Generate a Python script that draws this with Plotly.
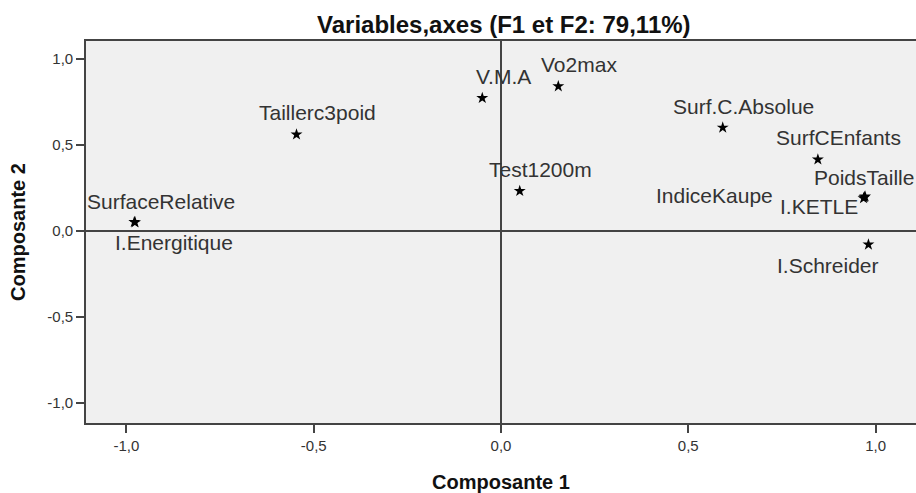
import plotly.graph_objects as go

# ---- data (component loadings) ----
variables = ["SurfaceRelative", "I.Energitique", "Taillerc3poid", "V.M.A", "Vo2max",
             "Surf.C.Absolue", "SurfCEnfants", "Test1200m", "PoidsTaille",
             "IndiceKaupe", "I.KETLE", "I.Schreider"]
comp1 = [-0.979, -0.977, -0.546, -0.050, 0.153, 0.592, 0.846, 0.050, 0.970, 0.968, 0.972, 0.981]
comp2 = [0.052, 0.050, 0.560, 0.772, 0.840, 0.600, 0.415, 0.232, 0.196, 0.190, 0.200, -0.079]

tick_vals = [-1.0, -0.5, 0.0, 0.5, 1.0]
tick_text = ["-1,0", "-0,5", "0,0", "0,5", "1,0"]

title_text = "Variables,axes (F1 et F2: 79,11%)"
x_title = "Composante 1"
y_title = "Composante 2"

# label placement offsets in pixels (dx right, dy up) and anchor
label_style = {
    "SurfaceRelative": (27, 21, "center"),
    "I.Energitique": (39, -20, "center"),
    "Taillerc3poid": (21, 22, "center"),
    "V.M.A": (21, 22, "center"),
    "Vo2max": (21, 22, "center"),
    "Surf.C.Absolue": (21, 21, "center"),
    "SurfCEnfants": (21, 22, "center"),
    "Test1200m": (21, 22, "center"),
    "PoidsTaille": (52, 20, "right"),
    "IndiceKaupe": (-89, 3, "right"),
    "I.KETLE": (-46, -10, "center"),
    "I.Schreider": (-40, -21, "center"),
}

FONT = "Liberation Sans, Arial, sans-serif"
AXC = "#444444"

fig = go.Figure()
fig.add_trace(go.Scatter(
    x=comp1, y=comp2, mode="markers",
    marker=dict(symbol="star", size=9, color="black", line=dict(width=0)),
    hoverinfo="text", text=variables, showlegend=False,
))

annotations = []
for name, xv, yv in zip(variables, comp1, comp2):
    dx, dy, anchor = label_style[name]
    annotations.append(dict(
        x=xv, y=yv, xref="x", yref="y", text=name, showarrow=False,
        xshift=dx, yshift=dy, xanchor=anchor, yanchor="middle",
        font=dict(family=FONT, size=21, color="#333333"),
    ))

fig.update_layout(
    width=916, height=493,
    margin=dict(l=86, r=0, t=41, b=70),
    paper_bgcolor="white", plot_bgcolor="#f0f0f0",
    title=dict(text="<b>" + title_text + "</b>", x=0.55, xanchor="center",
               y=0.951, yanchor="middle",
               font=dict(family=FONT, size=24, color="#111111")),
    annotations=annotations,
    xaxis=dict(
        range=[-1.108, 1.108], tickvals=tick_vals, ticktext=tick_text,
        showgrid=False, zeroline=True, zerolinecolor=AXC, zerolinewidth=1.6,
        showline=True, linecolor=AXC, linewidth=1.6, mirror=True,
        ticks="outside", ticklen=8, tickwidth=1.6, tickcolor=AXC,
        tickfont=dict(family=FONT, size=15, color="#333333"),
        title=dict(text="<b>" + x_title + "</b>", standoff=23,
                   font=dict(family=FONT, size=20, color="#111111")),
    ),
    yaxis=dict(
        range=[-1.115, 1.103], tickvals=tick_vals, ticktext=tick_text,
        showgrid=False, zeroline=True, zerolinecolor=AXC, zerolinewidth=1.6,
        showline=True, linecolor=AXC, linewidth=1.6, mirror=False,
        ticks="outside", ticklen=8, tickwidth=1.6, tickcolor=AXC,
        tickfont=dict(family=FONT, size=15, color="#333333"),
        title=dict(text="<b>" + y_title + "</b>", standoff=16,
                   font=dict(family=FONT, size=20, color="#111111")),
    ),
)

fig.write_html("out.html", config={"displayModeBar": False},
               post_script="document.body.style.margin='0';")
